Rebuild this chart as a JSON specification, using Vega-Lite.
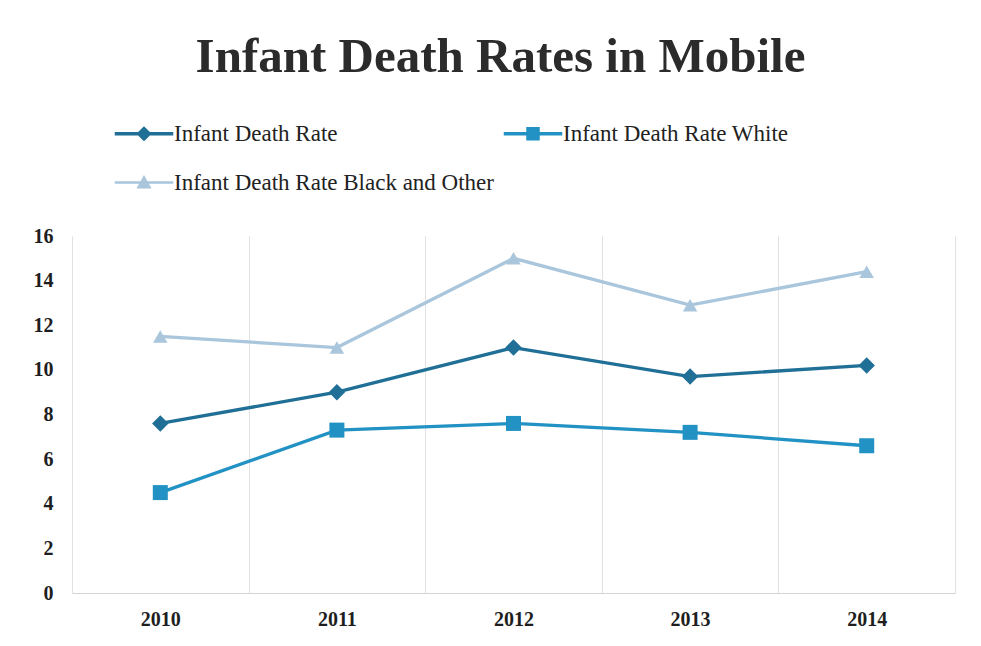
{
  "$schema": "https://vega.github.io/schema/vega-lite/v6.json",
  "width": 883,
  "height": 357,
  "autosize": {"type": "none"},
  "padding": {"left": 72, "top": 236, "right": 26, "bottom": 53},
  "background": "#ffffff",
  "title": {
    "text": "Infant Death Rates in Mobile",
    "font": "Liberation Serif",
    "fontSize": 49,
    "fontWeight": "bold",
    "color": "#2b2b2b",
    "anchor": "middle",
    "frame": "group",
    "dx": -13,
    "offset": 40
  },
  "config": {
    "view": {"stroke": null},
    "axis": {"labelFont": "Liberation Serif", "labelColor": "#1e1e1e", "labelFontSize": 20, "labelFontWeight": "bold"},
    "legend": {
      "orient": "none",
      "legendX": 60.5,
      "legendY": -114,
      "direction": "horizontal",
      "columns": 2,
      "title": null,
      "labelFont": "Liberation Serif",
      "labelFontSize": 23,
      "labelColor": "#222222",
      "labelOffset": 18.5,
      "labelLimit": 600,
      "symbolSize": 225,
      "symbolStrokeWidth": 0,
      "symbolOpacity": 1,
      "columnPadding": 9,
      "rowPadding": 25
    }
  },
  "data": {
    "values": [
      {"year": "2010", "series": "Infant Death Rate", "rate": 7.6},
      {"year": "2011", "series": "Infant Death Rate", "rate": 9.0},
      {"year": "2012", "series": "Infant Death Rate", "rate": 11.0},
      {"year": "2013", "series": "Infant Death Rate", "rate": 9.7},
      {"year": "2014", "series": "Infant Death Rate", "rate": 10.2},
      {"year": "2010", "series": "Infant Death Rate White", "rate": 4.5},
      {"year": "2011", "series": "Infant Death Rate White", "rate": 7.3},
      {"year": "2012", "series": "Infant Death Rate White", "rate": 7.6},
      {"year": "2013", "series": "Infant Death Rate White", "rate": 7.2},
      {"year": "2014", "series": "Infant Death Rate White", "rate": 6.6},
      {"year": "2010", "series": "Infant Death Rate Black and Other", "rate": 11.5},
      {"year": "2011", "series": "Infant Death Rate Black and Other", "rate": 11.0},
      {"year": "2012", "series": "Infant Death Rate Black and Other", "rate": 15.0},
      {"year": "2013", "series": "Infant Death Rate Black and Other", "rate": 12.9},
      {"year": "2014", "series": "Infant Death Rate Black and Other", "rate": 14.4}
    ]
  },
  "encoding": {
    "x": {
      "field": "year",
      "type": "ordinal",
      "scale": {"type": "band", "paddingInner": 0, "paddingOuter": 0},
      "axis": {
        "title": null,
        "labelAngle": 0,
        "ticks": false,
        "tickBand": "extent",
        "grid": true,
        "gridColor": "#e2e2e2",
        "gridWidth": 1,
        "domain": true,
        "domainColor": "#d4d4d4",
        "labelPadding": 16
      }
    },
    "y": {
      "field": "rate",
      "type": "quantitative",
      "scale": {"domain": [0, 16], "nice": false, "zero": true},
      "axis": {
        "title": null,
        "values": [0, 2, 4, 6, 8, 10, 12, 14, 16],
        "grid": false,
        "domain": false,
        "ticks": false,
        "labelPadding": 19
      }
    },
    "color": {
      "field": "series",
      "type": "nominal",
      "scale": {
        "domain": ["Infant Death Rate", "Infant Death Rate White", "Infant Death Rate Black and Other"],
        "range": ["#1f6f96", "#2192c3", "#a9c6dc"]
      }
    }
  },
  "layer": [
    {
      "mark": {"type": "line", "strokeWidth": 3.3}
    },
    {
      "transform": [{"filter": "datum.series === 'Infant Death Rate'"}],
      "mark": {"type": "point", "shape": "diamond", "filled": true, "size": 270, "opacity": 1}
    },
    {
      "transform": [{"filter": "datum.series === 'Infant Death Rate White'"}],
      "mark": {"type": "point", "shape": "square", "filled": true, "size": 225, "opacity": 1}
    },
    {
      "transform": [{"filter": "datum.series === 'Infant Death Rate Black and Other'"}],
      "mark": {"type": "point", "shape": "triangle-up", "filled": true, "size": 210, "opacity": 1}
    },
    {
      "mark": {"type": "point", "filled": true, "opacity": 0},
      "encoding": {
        "shape": {
          "field": "series",
          "type": "nominal",
          "scale": {
            "domain": ["Infant Death Rate", "Infant Death Rate White", "Infant Death Rate Black and Other"],
            "range": [
              "M-3.9,-0.22H-0.78L0,-1L0.78,-0.22H3.9V0.22H0.78L0,1L-0.78,0.22H-3.9Z",
              "M-3.9,-0.22H-0.9V-0.9H0.9V-0.22H3.9V0.22H0.9V0.9H-0.9V0.22H-3.9Z",
              "M-3.9,-0.18H-0.456L0,-1L0.456,-0.18H3.9V0.18H0.656L1,0.8H-1L-0.656,0.18H-3.9Z"
            ]
          }
        }
      }
    }
  ]
}
